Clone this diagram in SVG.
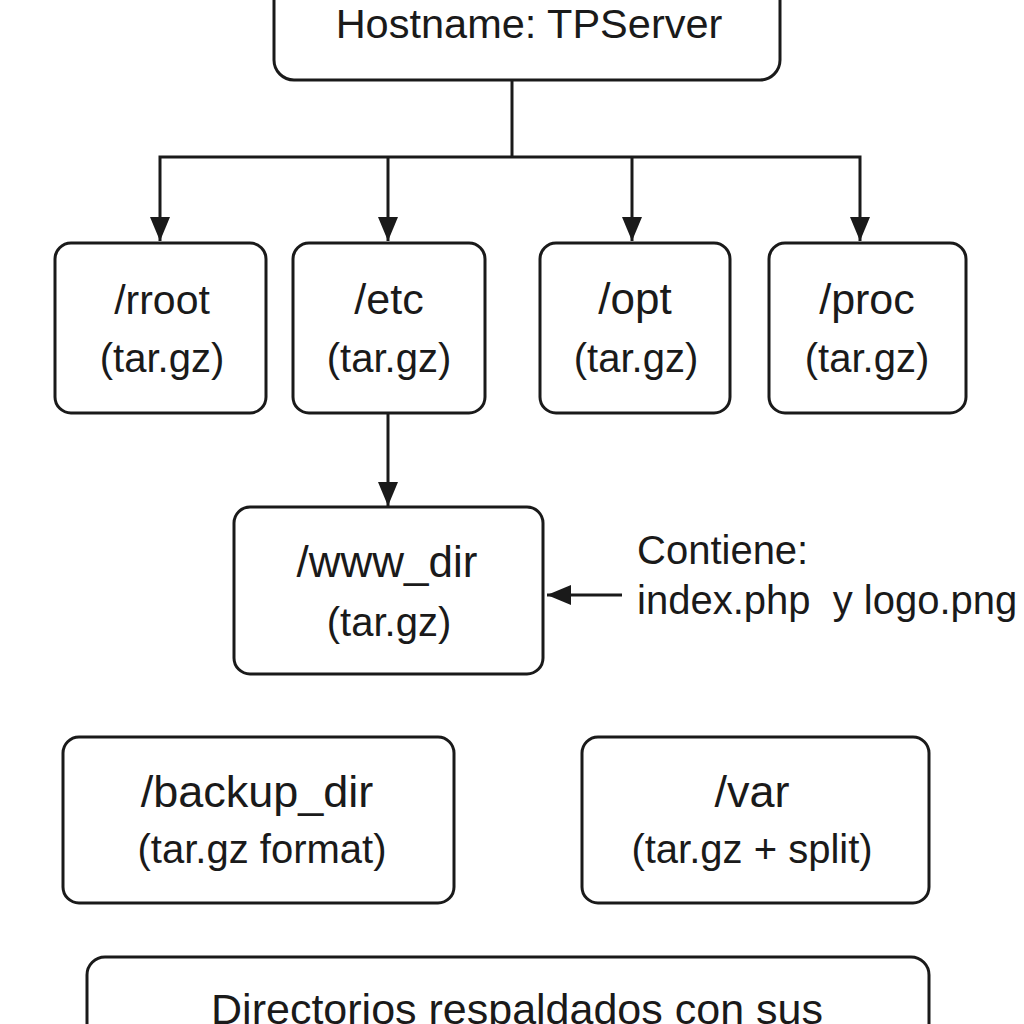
<svg xmlns="http://www.w3.org/2000/svg" width="1024" height="1024" viewBox="0 0 1024 1024">
<defs>
<style>
.box{fill:#fff;stroke:#1a1a1a;stroke-width:3}
.t{font-family:"Liberation Sans",Arial,sans-serif;fill:#1a1a1a;text-anchor:middle}
.l{font-family:"Liberation Sans",Arial,sans-serif;fill:#1a1a1a}
.c{fill:none;stroke:#1a1a1a;stroke-width:3;stroke-linejoin:miter}
</style>
<marker id="ah" viewBox="0 0 24 20" refX="24" refY="10" markerWidth="24" markerHeight="20" markerUnits="userSpaceOnUse" orient="auto">
<path d="M0,0 L24,10 L0,20 Z" fill="#1a1a1a"/>
</marker>
</defs>
<rect width="1024" height="1024" fill="#fff"/>
<g id="connectors">
<path class="c" d="M512,80 V157"/>
<path class="c" d="M388,157 H160 V241" marker-end="url(#ah)"/>
<path class="c" d="M632,157 H860 V241" marker-end="url(#ah)"/>
<path class="c" d="M388,157 V241" marker-end="url(#ah)"/>
<path class="c" d="M632,157 V241" marker-end="url(#ah)"/>
<path class="c" d="M388,157 H632"/>
<path class="c" d="M388,413 V506" marker-end="url(#ah)"/>
<path class="c" d="M622,595 H547" marker-end="url(#ah)"/>
</g>
<g id="host">
<rect class="box" x="274" y="-30" width="506" height="110" rx="20"/>
<text class="t" x="529" y="38" font-size="41.5">Hostname: TPServer</text>
</g>
<g id="rroot">
<rect class="box" x="55" y="243" width="211" height="170" rx="16"/>
<text class="t" x="162" y="314" font-size="41">/rroot</text>
<text class="t" x="162" y="372" font-size="40">(tar.gz)</text>
</g>
<g id="etc">
<rect class="box" x="293" y="243" width="192" height="170" rx="16"/>
<text class="t" x="389" y="314" font-size="43">/etc</text>
<text class="t" x="389" y="372" font-size="40">(tar.gz)</text>
</g>
<g id="opt">
<rect class="box" x="540" y="243" width="190" height="170" rx="16"/>
<text class="t" x="635" y="314" font-size="44">/opt</text>
<text class="t" x="636" y="372" font-size="40">(tar.gz)</text>
</g>
<g id="proc">
<rect class="box" x="769" y="243" width="197" height="170" rx="16"/>
<text class="t" x="867" y="314" font-size="43">/proc</text>
<text class="t" x="867" y="372" font-size="40">(tar.gz)</text>
</g>
<g id="www">
<rect class="box" x="234" y="507" width="309" height="167" rx="16"/>
<text class="t" x="387" y="577" font-size="44">/www_dir</text>
<text class="t" x="389" y="636" font-size="40">(tar.gz)</text>
</g>
<g id="note">
<text class="l" x="637" y="564" font-size="40">Contiene:</text>
<text class="l" x="637" y="614" font-size="40" xml:space="preserve">index.php  y logo.png</text>
</g>
<g id="backup">
<rect class="box" x="63" y="737" width="391" height="166" rx="16"/>
<text class="t" x="257" y="807" font-size="45">/backup_dir</text>
<text class="t" x="262" y="863" font-size="40">(tar.gz format)</text>
</g>
<g id="var">
<rect class="box" x="582" y="737" width="347" height="166" rx="16"/>
<text class="t" x="752" y="807" font-size="45">/var</text>
<text class="t" x="752" y="863" font-size="40">(tar.gz + split)</text>
</g>
<g id="summary">
<rect class="box" x="87" y="957" width="842" height="110" rx="18"/>
<text class="t" x="517" y="1024" font-size="43">Directorios respaldados con sus</text>
</g>
</svg>
